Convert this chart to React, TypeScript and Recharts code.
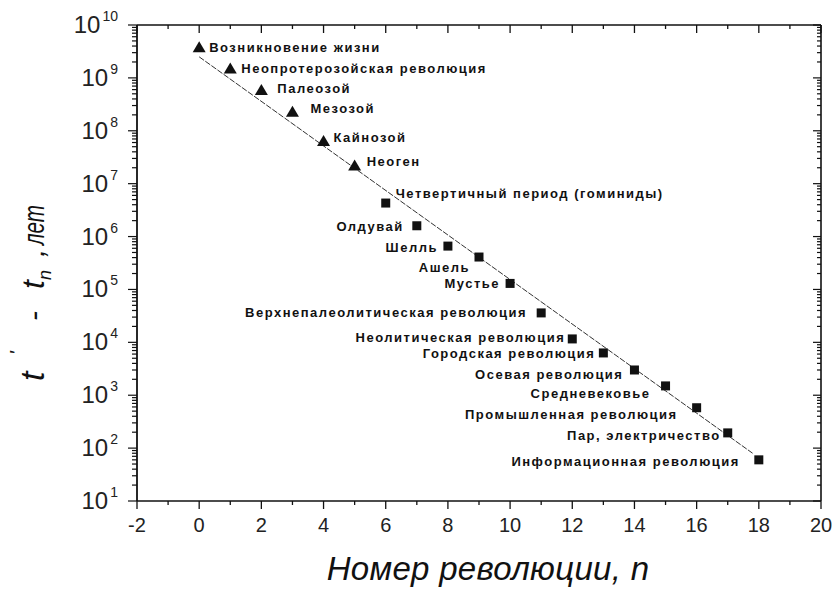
import { ComposedChart, Scatter, Line, XAxis, YAxis, Label } from "recharts"

// номер революции n
const revolutionN = [0, 1, 2, 3, 4, 5, 6, 7, 8, 9, 10, 11, 12, 13, 14, 15, 16, 17, 18]

// t* - t_n, лет
const yearsAgo = [
    3.8e9, 1.5e9, 5.9e8, 2.3e8, 6.4e7, 2.2e7, 4.3e6, 1.6e6, 6.6e5, 4.1e5,
    1.3e5, 3.6e4, 1.16e4, 6.3e3, 3.0e3, 1.5e3, 580, 194, 60,
]

const revolutionNames = [
    'Возникновение жизни',
    'Неопротерозойская революция',
    'Палеозой',
    'Мезозой',
    'Кайнозой',
    'Неоген',
    'Четвертичный период (гоминиды)',
    'Олдувай',
    'Шелль',
    'Ашель',
    'Мустье',
    'Верхнепалеолитическая революция',
    'Неолитическая революция',
    'Городская революция',
    'Осевая революция',
    'Средневековье',
    'Промышленная революция',
    'Пар, электричество',
    'Информационная революция',
]

// first six are geological (triangles), the rest are squares
const geologicalCount = 6

// fitted straight line, two ends
const fitN = [0, 17.8]
const fitYears = [2.5e9, 80]

const xTicks = [-2, -1, 0, 1, 2, 3, 4, 5, 6, 7, 8, 9, 10, 11, 12, 13, 14, 15, 16, 17, 18, 19, 20]
const decades = [1, 2, 3, 4, 5, 6, 7, 8, 9, 10]

// label placement next to each point: anchor, dx, dy
const labelPlacement: [string, number, number][] = [
    ['start', 10, 0],
    ['start', 11, 0],
    ['start', 16, -2],
    ['start', 18, -3],
    ['start', 10, -4],
    ['start', 12, -4],
    ['start', 10, -10],
    ['end', -13, 1],
    ['end', -10, 1],
    ['end', -9, 10],
    ['end', -10, 0],
    ['end', -14, 0],
    ['end', -7, -1],
    ['end', -8, 1],
    ['end', -11, 5],
    ['end', -15, 8],
    ['end', -19, 7],
    ['end', -7, 3],
    ['end', -19, 2],
]

const points = revolutionN.map((n, i) => ({ n, years: yearsAgo[i], name: revolutionNames[i] }))
const geoPoints = points.slice(0, geologicalCount)
const humanPoints = points.slice(geologicalCount)
const fitData = fitN.map((n, i) => ({ n, years: fitYears[i] }))

const yTicks: number[] = []
decades.forEach((d) => {
    if (d === 10) {
        yTicks.push(Math.pow(10, d))
        return
    }
    for (let m = 1; m <= 9; m++) yTicks.push(m * Math.pow(10, d))
})

const ink = '#111'
const labelFont = '"Liberation Sans", Arial, sans-serif'

const isDecade = (v: number) => {
    const e = Math.log10(v)
    return Math.abs(e - Math.round(e)) < 1e-9
}

const BottomTick = (props: any) => {
    const { x, y, payload } = props
    const major = payload.value % 2 === 0
    return (
        <g>
            <line x1={x} x2={x} y1={y} y2={y + (major ? 8 : 4)} stroke={ink} strokeWidth={1.3} />
            {major && (
                <text x={x} y={y + 31} textAnchor="middle" fontSize={20} fontFamily={labelFont} fill="#222">
                    {payload.value}
                </text>
            )}
        </g>
    )
}

const TopTick = (props: any) => {
    const { x, y, payload } = props
    const major = payload.value % 2 === 0
    return <line x1={x} x2={x} y1={y} y2={y + (major ? 8 : 4)} stroke={ink} strokeWidth={1.3} />
}

const LeftTick = (props: any) => {
    const { x, y, payload } = props
    const v = payload.value
    const major = isDecade(v)
    const exp = Math.round(Math.log10(v))
    return (
        <g>
            <line x1={x} x2={x - (major ? 9 : 5)} y1={y} y2={y} stroke={ink} strokeWidth={1.2} />
            {major && (
                <text x={x - 19} y={y + 8} textAnchor="end" fontFamily={labelFont} fill="#222">
                    <tspan fontSize={24}>10</tspan>
                    <tspan fontSize={14} dy={-12} dx={2}>{exp}</tspan>
                </text>
            )}
        </g>
    )
}

const RightTick = (props: any) => {
    const { x, y, payload } = props
    const major = isDecade(payload.value)
    return <line x1={x} x2={x - (major ? 8 : 4)} y1={y} y2={y} stroke={ink} strokeWidth={1.2} />
}

const RevolutionMark = (props: any) => {
    const { cx, cy, payload, marker } = props
    const [anchor, dx, dy] = labelPlacement[payload.n]
    return (
        <g>
            {marker === 'triangle' ? (
                <polygon points={`${cx},${cy - 6} ${cx - 6.5},${cy + 5} ${cx + 6.5},${cy + 5}`} fill={ink} />
            ) : (
                <rect x={cx - 4.5} y={cy - 4.5} width={9} height={9} fill={ink} />
            )}
            <text
                x={cx + dx}
                y={cy + dy}
                textAnchor={anchor}
                dominantBaseline="central"
                fontSize={13}
                fontWeight={700}
                letterSpacing={1.5}
                fontFamily={labelFont}
                fill={ink}
            >
                {payload.name}
            </text>
        </g>
    )
}

const YTitle = (props: any) => {
    const { viewBox } = props
    const bx = viewBox.x - 92
    const by = viewBox.y + 358
    return (
        <text
            transform={`translate(${bx},${by}) rotate(-90)`}
            fontFamily={labelFont}
            fontStyle="italic"
            fontSize={30}
            fill={ink}
        >
            <tspan x={2} fontSize={34}>t</tspan>
            <tspan x={28} dy={-20} fontSize={20}>'</tspan>
            <tspan x={62} dy={20}>-</tspan>
            <tspan x={94} fontSize={32}>t</tspan>
            <tspan dy={7} fontSize={18}>n</tspan>
            <tspan x={126} dy={-7}>,</tspan>
            <tspan x={138} textLength={40} lengthAdjust="spacingAndGlyphs">лет</tspan>
        </text>
    )
}

const XTitle = (props: any) => {
    const { viewBox } = props
    return (
        <text
            x={viewBox.x + viewBox.width / 2 + 9}
            y={viewBox.y + 79}
            textAnchor="middle"
            fontFamily={labelFont}
            fontStyle="italic"
            fontSize={33}
            letterSpacing={0.3}
            fill={ink}
        >
            Номер революции, n
        </text>
    )
}

const App = () => {
    return (
        <div style={{ position: 'absolute', left: 0, top: 0, background: '#fff' }}>
            <ComposedChart width={836} height={591} margin={{ top: 24, right: 14, bottom: 89, left: 136 }}>
                <XAxis
                    xAxisId="b"
                    dataKey="n"
                    type="number"
                    domain={[-2, 20]}
                    ticks={xTicks}
                    interval={0}
                    allowDataOverflow
                    height={1}
                    tickSize={0}
                    tickMargin={0}
                    tickLine={false}
                    axisLine={{ stroke: ink, strokeWidth: 1.6 }}
                    tick={BottomTick}
                >
                    <Label content={XTitle} />
                </XAxis>
                <XAxis
                    xAxisId="t"
                    orientation="top"
                    dataKey="n"
                    type="number"
                    domain={[-2, 20]}
                    ticks={xTicks}
                    interval={0}
                    allowDataOverflow
                    height={1}
                    tickSize={0}
                    tickMargin={0}
                    tickLine={false}
                    axisLine={{ stroke: ink, strokeWidth: 1.6 }}
                    tick={TopTick}
                />
                <YAxis
                    yAxisId="l"
                    dataKey="years"
                    type="number"
                    scale="log"
                    domain={[10, 1e10]}
                    ticks={yTicks}
                    interval={0}
                    allowDataOverflow
                    width={1}
                    tickSize={0}
                    tickMargin={0}
                    tickLine={false}
                    axisLine={{ stroke: ink, strokeWidth: 1.8 }}
                    tick={LeftTick}
                >
                    <Label content={YTitle} />
                </YAxis>
                <YAxis
                    yAxisId="r"
                    orientation="right"
                    dataKey="years"
                    type="number"
                    scale="log"
                    domain={[10, 1e10]}
                    ticks={yTicks}
                    interval={0}
                    allowDataOverflow
                    width={1}
                    tickSize={0}
                    tickMargin={0}
                    tickLine={false}
                    axisLine={{ stroke: ink, strokeWidth: 1.6 }}
                    tick={RightTick}
                />
                <Line
                    xAxisId="b"
                    yAxisId="l"
                    data={fitData}
                    dataKey="years"
                    type="linear"
                    stroke="#333"
                    strokeWidth={1}
                    strokeDasharray="6 1.5"
                    dot={false}
                    activeDot={false}
                    isAnimationActive={false}
                />
                <Scatter
                    xAxisId="b"
                    yAxisId="l"
                    data={geoPoints}
                    dataKey="years"
                    shape={(p: any) => <RevolutionMark {...p} marker="triangle" />}
                    isAnimationActive={false}
                />
                <Scatter
                    xAxisId="b"
                    yAxisId="l"
                    data={humanPoints}
                    dataKey="years"
                    shape={(p: any) => <RevolutionMark {...p} marker="square" />}
                    isAnimationActive={false}
                />
                <Scatter xAxisId="t" yAxisId="r" data={fitData} dataKey="years" shape={() => <g />} isAnimationActive={false} />
            </ComposedChart>
        </div>
    )
}

export default App
